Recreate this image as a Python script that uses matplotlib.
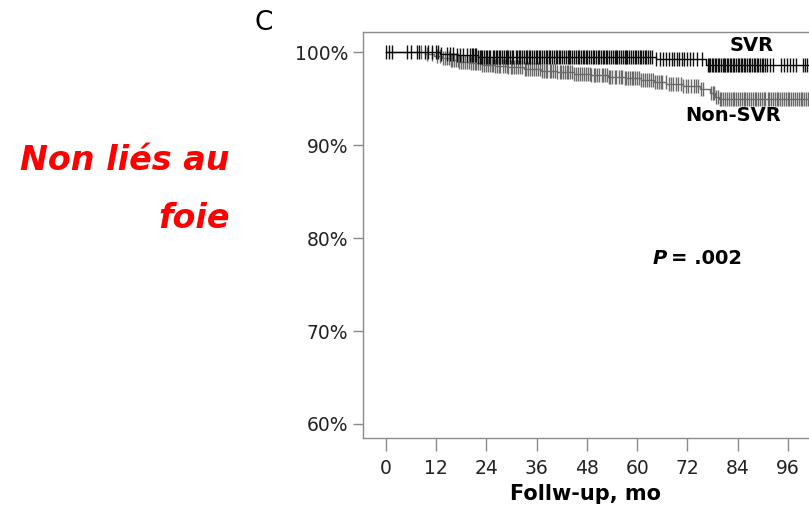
import numpy as np
import matplotlib.pyplot as plt

# Kaplan-Meier steps (months, % event-free)
svr_t = [0, 13.0, 17.0, 22.0, 64.5, 76.5, 101]
svr_s = [100, 99.85, 99.7, 99.5, 99.3, 98.6, 98.6]

nonsvr_t = [0, 9.5, 11.5, 13.5, 15.5, 17.5, 20.0, 23.0, 26.0, 29.0, 33.0, 37.0,
            41.0, 45.0, 49.0, 53.0, 57.0, 61.0, 64.0, 67.0, 71.0, 75.0, 77.5,
            78.5, 79.5, 101]
nonsvr_s = [100, 99.8, 99.6, 99.4, 99.2, 99.0, 98.85, 98.7, 98.55, 98.4, 98.2,
            98.05, 97.9, 97.7, 97.55, 97.4, 97.25, 97.05, 96.85, 96.6, 96.35,
            96.1, 95.6, 95.2, 95.0, 95.0]

# censored observations (months)
svr_cens = [0.2, 0.7, 1.4, 5.0, 6.1, 7.4, 8.0, 9.5, 10.2, 11.0, 11.9, 12.6, 13.3,
            14.6, 15.4, 16.1, 17.0, 17.8, 18.5, 19.3, 20.1, 20.5, 20.8, 21.2,
            21.6, 22.0, 22.4, 22.7, 23.0, 23.5, 23.9, 24.2, 24.6, 25.0, 25.5,
            25.9, 26.3, 26.6, 27.0, 27.4, 27.8, 28.2, 28.6, 29.0, 29.3, 29.7,
            30.1, 30.5, 31.0, 31.3, 31.7, 32.1, 32.5, 33.0, 33.4, 33.7, 34.1,
            34.5, 35.0, 35.4, 35.8, 36.1, 36.5, 36.9, 37.3, 37.7, 38.2, 38.6,
            39.0, 39.3, 39.7, 40.1, 40.6, 41.0, 41.3, 41.7, 42.1, 42.6, 43.0,
            43.4, 43.8, 44.1, 44.5, 44.9, 45.3, 45.8, 46.2, 46.6, 47.0, 47.3,
            47.7, 48.1, 48.6, 49.0, 49.4, 49.7, 50.1, 50.6, 51.0, 51.4, 51.8,
            52.1, 52.5, 52.9, 53.3, 53.8, 54.2, 54.6, 55.0, 55.3, 55.7, 56.1,
            56.6, 57.0, 57.4, 57.7, 58.1, 58.6, 59.0, 59.4, 59.8, 60.2, 60.6,
            61.0, 61.3, 61.8, 62.2, 62.6, 63.0, 63.6, 64.5, 65.4, 66.1, 66.8,
            67.5, 68.2, 68.9, 69.5, 70.1, 70.7, 71.2, 72.0, 72.6, 73.4, 74.3,
            75.5, 76.8, 77.1, 77.4, 77.8, 78.1, 78.5, 78.9, 79.2, 79.6, 80.0,
            80.4, 80.7, 81.0, 81.4, 81.7, 82.1, 82.5, 82.8, 83.2, 83.6, 84.0,
            84.3, 84.7, 85.1, 85.5, 85.8, 86.2, 86.6, 87.0, 87.4, 87.8, 88.2,
            88.6, 88.9, 89.3, 89.7, 90.1, 90.5, 90.9, 91.6, 92.5, 94.3, 95.1,
            95.7, 96.4, 97.2, 98.0, 99.5, 100.0, 100.5]
nonsvr_cens = [8.5, 9.8, 11.0, 12.2, 13.0, 13.6, 14.1, 14.6, 15.0, 15.5, 15.9,
               16.4, 16.8, 17.2, 17.6, 18.0, 18.4, 19.0, 19.5, 19.9, 20.3, 20.8,
               21.2, 21.6, 22.0, 22.6, 23.1, 23.5, 24.0, 24.4, 24.8, 25.3, 25.7,
               26.1, 26.5, 27.0, 27.4, 28.0, 28.5, 28.9, 29.3, 29.8, 30.2, 30.7,
               31.1, 31.5, 32.0, 32.6, 33.2, 33.6, 34.0, 34.5, 34.9, 35.3, 35.8,
               36.3, 36.9, 37.3, 37.7, 38.2, 38.6, 39.1, 39.5, 40.0, 40.4, 41.0,
               41.5, 41.9, 42.3, 42.8, 43.2, 43.6, 44.1, 44.5, 45.0, 45.5, 46.0,
               46.4, 46.9, 47.3, 47.8, 48.2, 48.7, 49.1, 49.6, 50.0, 50.5, 51.0,
               51.5, 51.9, 52.3, 52.8, 53.2, 53.6, 54.1, 54.6, 55.0, 55.6, 56.1,
               56.5, 57.0, 57.4, 57.8, 58.2, 58.7, 59.1, 59.6, 60.0, 60.5, 61.0,
               61.4, 61.9, 62.4, 62.8, 63.3, 63.7, 64.2, 64.7, 65.1, 65.6, 66.0,
               66.8, 67.5, 68.0, 68.6, 69.2, 69.8, 70.4, 71.0, 71.6, 72.2, 72.9,
               73.5, 74.0, 74.6, 75.2, 75.8, 77.6, 78.0, 78.4, 78.8, 79.3, 79.7,
               80.1, 80.5, 81.0, 81.4, 81.9, 82.3, 82.8, 83.2, 83.6, 84.0, 84.5,
               84.9, 85.4, 85.8, 86.3, 86.7, 87.1, 87.6, 88.0, 88.4, 88.9, 89.3,
               89.8, 90.2, 90.6, 91.1, 91.5, 92.0, 92.4, 92.8, 93.3, 93.7, 94.1,
               94.6, 95.0, 95.5, 95.9, 96.3, 96.8, 97.2, 97.6, 98.1, 98.5, 99.0,
               99.4, 99.9, 100.3, 100.7]

xticks = [0, 12, 24, 36, 48, 60, 72, 84, 96]
yticks = [60, 70, 80, 90, 100]
ytick_labels = ['60%', '70%', '80%', '90%', '100%']


def step_value(t, times, surv):
    idx = np.searchsorted(times, t, side='right') - 1
    return np.array(surv)[idx]


W, H = 809, 508
fig = plt.figure(figsize=(W / 100, H / 100), dpi=100)
ax = fig.add_axes([363 / W, 1 - 438.3 / H, 1 - 363 / W, (438.3 - 32) / H])

gray = '#6a6a6a'
spine_c = '#8a8a8a'

# Non-SVR first (behind)
ax.plot(nonsvr_t, nonsvr_s, drawstyle='steps-post', color=gray, lw=1.0)
ax.plot(nonsvr_cens, step_value(nonsvr_cens, nonsvr_t, nonsvr_s), ls='none',
        marker='|', ms=10, mew=1.0, color=gray)
ax.plot(svr_t, svr_s, drawstyle='steps-post', color='black', lw=1.0)
ax.plot(svr_cens, step_value(svr_cens, svr_t, svr_s), ls='none',
        marker='|', ms=10, mew=1.0, color='#111111')

ax.set_xlim(-5.4, 101.0)
ax.set_ylim(58.46, 102.2)
ax.set_xticks(xticks)
ax.set_xticklabels([str(v) for v in xticks])
ax.set_yticks(yticks)
ax.set_yticklabels(ytick_labels)

for s in ['left', 'top', 'bottom']:
    ax.spines[s].set_color(spine_c)
    ax.spines[s].set_linewidth(1.0)
ax.spines['right'].set_visible(False)
ax.tick_params(axis='y', length=7, width=1, color=spine_c, pad=3.5,
               labelsize=13.5, labelcolor='#222222')
ax.tick_params(axis='x', length=9, width=1, color=spine_c, pad=6,
               labelsize=13.5, labelcolor='#222222')

ax.set_xlabel('Follw-up, mo', fontsize=15, fontweight='bold', labelpad=4)

ax.text(87.4, 100.7, 'SVR', ha='center', va='center', fontsize=14,
        fontweight='bold')
ax.text(82.9, 93.25, 'Non-SVR', ha='center', va='center', fontsize=14,
        fontweight='bold')
ax.text(63.8, 77.85, 'P', ha='left', va='center', fontsize=14,
        fontweight='bold', fontstyle='italic')
ax.text(68.0, 77.85, '= .002', ha='left', va='center', fontsize=14,
        fontweight='bold')

fig.text(255 / W, 1 - 23 / H, 'C', ha='left', va='center', fontsize=19)

red_font = ['DejaVu Sans']
fig.text(230 / W, 1 - 160 / H, 'Non liés au', ha='right', va='center',
         fontsize=24, fontweight='bold', fontstyle='italic', color='red',
         family=red_font)
fig.text(230 / W, 1 - 218 / H, 'foie', ha='right', va='center',
         fontsize=24, fontweight='bold', fontstyle='italic', color='red',
         family=red_font)

fig.savefig('out.png', dpi=100)
